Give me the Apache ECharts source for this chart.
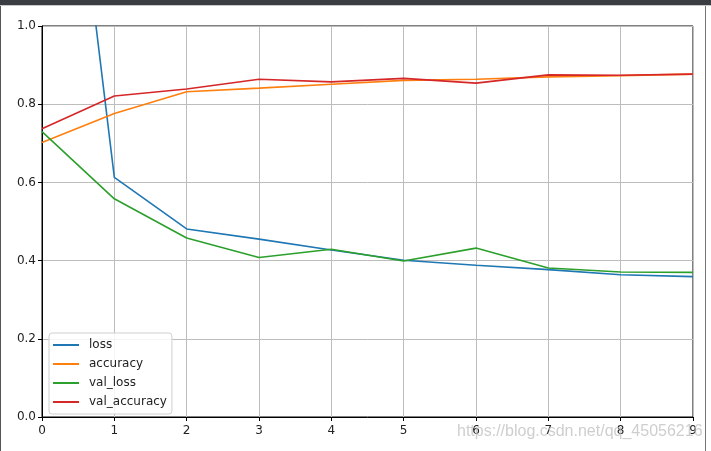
<!DOCTYPE html>
<html><head><meta charset="utf-8">
<script src="https://cdn.jsdelivr.net/npm/echarts@6/dist/echarts.min.js"></script>
<style>html,body{margin:0;padding:0;background:#fff}#c{width:711px;height:451px}</style>
</head><body><div id="c"></div>
<script>
const epochs = [0,1,2,3,4,5,6,7,8,9];
const loss = [2.14,0.613,0.481,0.455,0.427,0.401,0.388,0.377,0.364,0.359];
const accuracy = [0.702,0.776,0.832,0.841,0.851,0.861,0.864,0.870,0.873,0.877];
const valLoss = [0.730,0.558,0.458,0.408,0.429,0.399,0.432,0.381,0.371,0.370];
const valAccuracy = [0.737,0.821,0.839,0.864,0.857,0.866,0.854,0.875,0.874,0.877];
const seriesNames = ['loss','accuracy','val_loss','val_accuracy'];
const colors = ['#1f77b4','#ff7f0e','#2ca02c','#d62728'];
const yTicks = [0,0.2,0.4,0.6,0.8,1.0];

const chart = echarts.init(document.getElementById('c'), null, {renderer:'canvas'});
const font = 'DejaVu Sans';
const mk = (name, arr, i) => ({
  name, type:'line', data: epochs.map((e,k)=>[e,arr[k]]),
  showSymbol:false, symbol:'none', clip:true,
  lineStyle:{color:colors[i], width:1.6}, itemStyle:{color:colors[i]}, z:3
});
chart.setOption({
  animation:false,
  color:colors,
  grid:{left:42, right:18, top:26, bottom:34, show:true, borderColor:'#000', borderWidth:1},
  xAxis:{type:'value', min:0, max:9, interval:1,
    axisLine:{show:true, lineStyle:{color:'#000'}},
    axisTick:{show:true, length:4, lineStyle:{color:'#000'}},
    axisLabel:{color:'#222', fontFamily:font, fontSize:12, margin:8,
      formatter:v=>String(v)},
    splitLine:{show:true, lineStyle:{color:'#bdbdbd', width:1}}},
  yAxis:{type:'value', min:0, max:1, interval:0.2,
    axisLine:{show:true, lineStyle:{color:'#000'}},
    axisTick:{show:true, length:4, lineStyle:{color:'#000'}},
    axisLabel:{color:'#222', fontFamily:font, fontSize:12, margin:6,
      formatter:v=>{const t=yTicks.find(x=>Math.abs(x-v)<1e-9); return (t!==undefined?t:v).toFixed(1);}},
    splitLine:{show:true, lineStyle:{color:'#bdbdbd', width:1}}},
  legend:{orient:'vertical', left:49, top:333, data:seriesNames,
    icon:'rect', itemWidth:26, itemHeight:2, itemGap:5,
    backgroundColor:'rgba(255,255,255,0.85)', borderColor:'#d0d0d0', borderWidth:1, borderRadius:3,
    padding:[5,5,5,4],
    textStyle:{fontFamily:font, fontSize:12, color:'#222', lineHeight:14, padding:[0,0,0,5]}},
  series:[mk('loss',loss,0), mk('accuracy',accuracy,1), mk('val_loss',valLoss,2), mk('val_accuracy',valAccuracy,3)],
  graphic:[
    {type:'rect', shape:{x:0,y:0,width:711,height:5}, style:{fill:'#3a3e43'}, silent:true, z:100},
    {type:'rect', shape:{x:0,y:5,width:711,height:1}, style:{fill:'#c8c8c8'}, silent:true, z:100},
    {type:'line', shape:{x1:0.5,y1:6,x2:0.5,y2:451}, style:{stroke:'#555', lineWidth:1}, silent:true, z:100},
    {type:'line', shape:{x1:705.5,y1:6,x2:705.5,y2:451}, style:{stroke:'#777', lineWidth:1}, silent:true, z:100},
    {type:'text', left:457, top:424, silent:true, z:100,
     style:{text:'https://blog.csdn.net/qq_45056216', fill:'rgba(190,190,190,0.75)', font:'16px "Liberation Sans"'}}
  ]
});
</script></body></html>
